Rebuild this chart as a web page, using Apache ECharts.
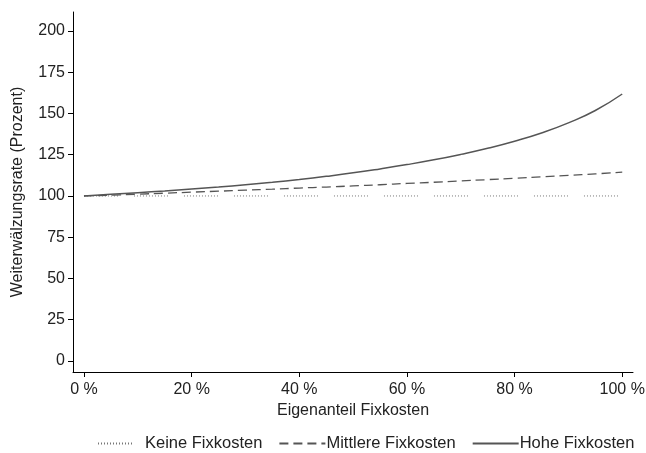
<!DOCTYPE html>
<html><head><meta charset="utf-8">
<script src="https://cdn.jsdelivr.net/npm/echarts@6/dist/echarts.min.js"></script>
<style>html,body{margin:0;padding:0;background:#fff}#c{width:646px;height:453px}</style>
</head><body><div id="c"></div>
<script>
const shares = [0,5,10,15,20,25,30,35,40,45,50,55,60,65,70,75,80,85,90,95,100];
const keine = [100,100,100,100,100,100,100,100,100,100,100,100,100,100,100,100,100,100,100,100,100];
const mittlere = [100,100.5,101.1,101.7,102.3,102.9,103.5,104.1,104.8,105.4,106.1,106.8,107.6,108.3,109.1,109.9,110.7,111.6,112.5,113.4,114.4];
const hohe = [100,101,102,103,104.2,105.4,106.8,108.3,110,111.9,114,116.4,119,121.9,125.2,128.9,133.2,138.2,144.3,151.8,161.8];
const xTicks = [0,20,40,60,80,100];
const yTicks = [0,25,50,75,100,125,150,175,200];
const names = ['Keine Fixkosten','Mittlere Fixkosten','Hohe Fixkosten'];

const zip = arr => shares.map((s,i)=>[s,arr[i]]);
const dotPattern = [];
for (let i=0;i<12;i++){ dotPattern.push(1,2); }
dotPattern[dotPattern.length-1] = 16;

const font = 'Liberation Sans, Arial, sans-serif';
const chart = echarts.init(document.getElementById('c'), null, {renderer:'canvas'});
chart.setOption({
  animation:false,
  backgroundColor:'#fff',
  textStyle:{fontFamily:font},
  grid:{left:73,right:13,top:12,bottom:81,containLabel:false,outerBoundsMode:'none'},
  xAxis:{
    type:'value', min:-2.04, max:102,
    name:'Eigenanteil Fixkosten', nameLocation:'middle', nameGap:31,
    nameTextStyle:{fontSize:16,color:'#222',fontFamily:font},
    axisLine:{show:true,onZero:false,lineStyle:{color:'#000',width:1}},
    axisTick:{show:true,length:5,customValues:xTicks,lineStyle:{color:'#000'}},
    axisLabel:{customValues:xTicks,formatter:v=>v+' %',fontSize:16,color:'#222',margin:10,fontFamily:font},
    splitLine:{show:false}
  },
  yAxis:{
    type:'value', min:-6.7, max:211.5,
    name:'Weiterwälzungsrate (Prozent)', nameLocation:'middle', nameGap:47,
    nameTextStyle:{fontSize:16,color:'#222',fontFamily:font},
    axisLine:{show:true,onZero:false,lineStyle:{color:'#000',width:1}},
    axisTick:{show:true,length:5,customValues:yTicks,lineStyle:{color:'#000'}},
    axisLabel:{customValues:yTicks,fontSize:16,color:'#222',margin:8,fontFamily:font},
    splitLine:{show:false}
  },
  legend:{
    show:true, top:430, left:92, itemWidth:46, itemHeight:12, itemGap:16,
    itemStyle:{opacity:0},
    textStyle:{fontSize:16.5,color:'#222',fontFamily:font,padding:[0,0,0,-4]},
    data:names
  },
  series:[
    {name:names[0],type:'line',data:zip(keine),symbol:'none',
     lineStyle:{color:'#777',width:1,type:dotPattern},itemStyle:{color:'#777'}},
    {name:names[1],type:'line',data:zip(mittlere),symbol:'none',smooth:true,
     lineStyle:{color:'#555',width:1.3,type:[9,5]},itemStyle:{color:'#555'}},
    {name:names[2],type:'line',data:zip(hohe),symbol:'none',smooth:true,
     lineStyle:{color:'#555',width:1.5,type:'solid'},itemStyle:{color:'#555'}}
  ]
});
</script></body></html>
